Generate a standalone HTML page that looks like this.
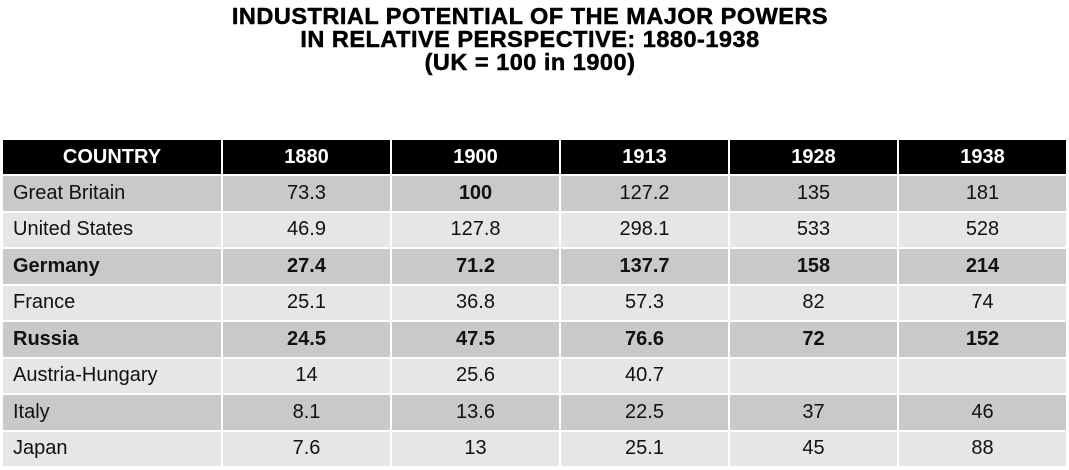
<!DOCTYPE html>
<html><head><style>
body{margin:0;width:1069px;height:470px;background:#fff;font-family:"Liberation Sans",sans-serif;position:relative;overflow:hidden}
.t{position:absolute;top:5px;left:0;width:1060px;text-align:center;font-weight:bold;font-size:23.5px;line-height:23px;color:#000;letter-spacing:0.5px;-webkit-text-stroke:0.5px #000}
table{position:absolute;left:1px;top:138px;border-collapse:collapse;width:1067px;table-layout:fixed}
td,th{border:2px solid #fff;padding:0;font-size:20px;text-align:center;color:#111;box-sizing:border-box}
tr{height:36.5px}
tr.h{height:36px}
th{background:#000;color:#fff;font-weight:bold}
td:first-child{text-align:left;padding-left:10px}
tr.o td{background:#c9c9c9}
tr.e td{background:#e6e6e6}
.b td{font-weight:bold}
</style></head><body>
<div class="t">INDUSTRIAL POTENTIAL OF THE MAJOR POWERS<br>IN RELATIVE PERSPECTIVE: 1880-1938<br>(UK = 100 in 1900)</div>
<table>
<colgroup><col style="width:220px"><col><col><col><col><col></colgroup>
<tr class="h"><th>COUNTRY</th><th>1880</th><th>1900</th><th>1913</th><th>1928</th><th>1938</th></tr>
<tr class="o"><td>Great Britain</td><td>73.3</td><td><b>100</b></td><td>127.2</td><td>135</td><td>181</td></tr>
<tr class="e"><td>United States</td><td>46.9</td><td>127.8</td><td>298.1</td><td>533</td><td>528</td></tr>
<tr class="o b"><td>Germany</td><td>27.4</td><td>71.2</td><td>137.7</td><td>158</td><td>214</td></tr>
<tr class="e"><td>France</td><td>25.1</td><td>36.8</td><td>57.3</td><td>82</td><td>74</td></tr>
<tr class="o b"><td>Russia</td><td>24.5</td><td>47.5</td><td>76.6</td><td>72</td><td>152</td></tr>
<tr class="e"><td>Austria-Hungary</td><td>14</td><td>25.6</td><td>40.7</td><td></td><td></td></tr>
<tr class="o"><td>Italy</td><td>8.1</td><td>13.6</td><td>22.5</td><td>37</td><td>46</td></tr>
<tr class="e"><td>Japan</td><td>7.6</td><td>13</td><td>25.1</td><td>45</td><td>88</td></tr>
</table>
</body></html>
